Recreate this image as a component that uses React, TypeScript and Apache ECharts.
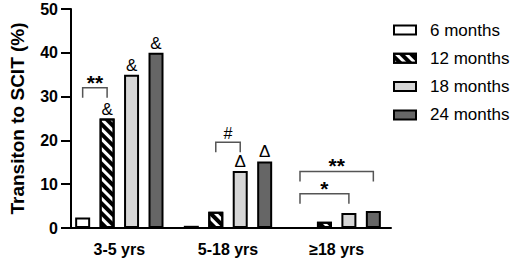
import React, { useEffect, useRef } from "react";
import * as echarts from "echarts";

const categories = ["3-5 yrs", "5-18 yrs", "≥18 yrs"];
const seriesNames = ["6 months", "12 months", "18 months", "24 months"];
const months6 = [2.4, 0.5, 0];
const months12 = [25, 3.7, 1.4];
const months18 = [35, 13, 3.4];
const months24 = [40, 15.2, 3.9];
const marks6 = ["", "", ""];
const marks12 = ["&", "", ""];
const marks18 = ["&", "Δ", ""];
const marks24 = ["&", "Δ", ""];
// [categoryIndex, fromSeries, toSeries, bracketTopValue]
const brackets = [
  [0, 0, 1, 32],
  [1, 1, 2, 19.6],
  [2, 0, 2, 7.8],
  [2, 0, 3, 12.9],
];
const bracketLabels = ["**", "#", "*", "**"];
const yMin = 0;
const yMax = 50;
const yInterval = 10;

const BAR_W = 15;
const BAR_GAP = 0.63;
const PITCH = BAR_W * (1 + BAR_GAP);
const LEG = 10;

const fills = ["#ffffff", "#ffffff", "#d6d6d6", "#666666"];
const values = [months6, months12, months18, months24];
const marks = [marks6, marks12, marks18, marks24];

export default function App() {
  const ref = useRef<HTMLDivElement>(null);
  useEffect(() => {
    if (!ref.current) return;
    document.body.style.margin = "0";
    const chart = echarts.init(ref.current, null, { renderer: "svg" });
    const font = "Liberation Sans, Arial, sans-serif";
    const barSeries = seriesNames.map((name, i) => ({
      type: "bar",
      name,
      barWidth: BAR_W,
      barGap: `${BAR_GAP * 100}%`,
      itemStyle: {
        color: fills[i],
        borderColor: "#000",
        borderWidth: 2,
        ...(i === 1
          ? {
              decal: {
                symbol: "rect",
                symbolSize: 1,
                color: "#000",
                dashArrayX: [1, 0],
                dashArrayY: [3.5, 3],
                rotation: Math.PI / 4,
              },
            }
          : {}),
      },
      label: {
        show: true,
        position: "top",
        distance: 1,
        color: "#000",
        fontFamily: font,
        fontSize: 17,
        formatter: (p: any) => marks[i][p.dataIndex] || "",
      },
      data: values[i],
    }));
    const option: any = {
      animation: false,
      grid: { left: 55, right: 119, top: 9, bottom: 35 },
      legend: {
        orient: "vertical",
        left: 388,
        top: 16,
        itemWidth: 22,
        itemHeight: 9,
        itemGap: 10.3,
        icon: "rect",
        data: seriesNames,
        textStyle: {
          fontFamily: font,
          fontSize: 17,
          lineHeight: 18,
          color: "#000",
          padding: [0, 0, 0, 9],
        },
      },
      xAxis: {
        type: "category",
        data: categories,
        axisLine: { lineStyle: { color: "#000", width: 2 } },
        axisTick: { alignWithLabel: true, length: 7, lineStyle: { color: "#000", width: 2 } },
        axisLabel: {
          color: "#000",
          fontFamily: font,
          fontSize: 16,
          fontWeight: "bold",
          margin: 13,
        },
      },
      yAxis: {
        type: "value",
        min: yMin,
        max: yMax,
        interval: yInterval,
        offset: -6,
        name: "Transiton to SCIT (%)",
        nameLocation: "middle",
        nameGap: 44,
        nameTextStyle: {
          color: "#000",
          fontFamily: font,
          fontSize: 19,
          fontWeight: "bold",
        },
        axisLine: { show: true, lineStyle: { color: "#000", width: 2 } },
        axisTick: { show: true, length: 10, lineStyle: { color: "#000", width: 2 } },
        axisLabel: {
          color: "#000",
          fontFamily: font,
          fontSize: 16,
          fontWeight: "bold",
          margin: 13,
        },
        splitLine: { show: false },
      },
      series: [
        ...barSeries,
        {
          type: "custom",
          name: "brackets",
          encode: { x: 0, y: 3 },
          data: brackets,
          z: 10,
          renderItem: (params: any, api: any) => {
            const cat = api.value(0);
            const from = api.value(1);
            const to = api.value(2);
            const top = api.value(3);
            const p = api.coord([cat, top]);
            const x1 = p[0] + (from - 1.5) * PITCH;
            const x2 = p[0] + (to - 1.5) * PITCH;
            const y = p[1];
            const label = bracketLabels[params.dataIndex];
            const star = label.indexOf("*") >= 0;
            return {
              type: "group",
              children: [
                {
                  type: "polyline",
                  shape: { points: [[x1, y + LEG], [x1, y], [x2, y], [x2, y + LEG]] },
                  style: { stroke: "#555", lineWidth: 1.5, fill: null },
                },
                {
                  type: "text",
                  style: {
                    text: label,
                    x: (x1 + x2) / 2,
                    y: star ? y + 5 : y - 1,
                    align: "center",
                    verticalAlign: "bottom",
                    fontFamily: font,
                    fontSize: star ? 21 : 16,
                    fontWeight: star ? "bold" : "normal",
                    fill: "#000",
                  },
                },
              ],
            };
          },
        },
      ],
    };
    chart.setOption(option);
    return () => chart.dispose();
  }, []);
  return <div ref={ref} style={{ width: 510, height: 263 }} />;
}
